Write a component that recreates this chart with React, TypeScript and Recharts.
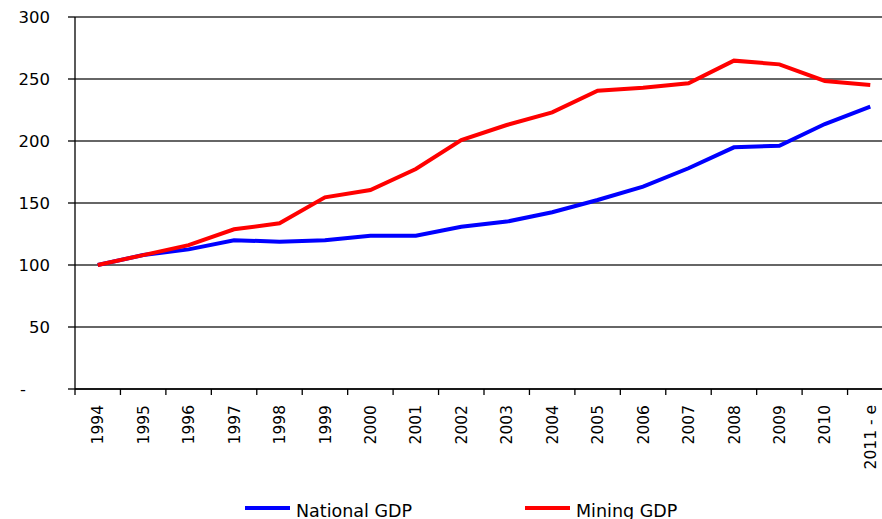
import React from 'react';
import { LineChart, Line, XAxis, YAxis, CartesianGrid, Legend } from 'recharts';

const years = ['1994', '1995', '1996', '1997', '1998', '1999', '2000', '2001', '2002', '2003', '2004', '2005', '2006', '2007', '2008', '2009', '2010', '2011 - e'];
const nationalGdp = [100, 108, 112.6, 120, 118.8, 120, 123.6, 123.6, 130.9, 135, 142.5, 152.4, 163.2, 178, 194.9, 196.2, 213.7, 227.7];
const miningGdp = [100, 108, 116, 128.8, 133.6, 154.6, 160.5, 177.4, 200.8, 212.9, 223.1, 240.6, 243, 246.5, 264.8, 261.8, 248.4, 245.2];
const yTicks = [0, 50, 100, 150, 200, 250, 300];
const seriesNames = ['National GDP', 'Mining GDP'];
const seriesColors = ['#0000FF', '#FF0000'];

const data = years.map((year, i) => ({ year, national: nationalGdp[i], mining: miningGdp[i] }));

const FONT = '"DejaVu Sans", Verdana, sans-serif';

const YTick = (props: any) => {
  const { x, y, payload } = props;
  const v = payload.value;
  if (v === 0) {
    return (
      <text x={x - 24} y={y} dy="0.38em" textAnchor="end" fontSize={16.5} fill="#000" fontFamily={FONT}>
        -
      </text>
    );
  }
  return (
    <text x={x} y={y} dy="0.38em" textAnchor="end" fontSize={16.5} fill="#000" fontFamily={FONT}>
      {v}
    </text>
  );
};

const XTick = (props: any) => {
  const { x, y, payload } = props;
  const off = payload && payload.offset != null ? payload.offset : 0;
  const bx = x - off;
  const ty = y + 16;
  return (
    <g>
      <line x1={bx} y1={y} x2={bx} y2={y + 6} stroke="#000" strokeWidth={1.3} />
      <text
        x={x}
        y={ty}
        dy="0.36em"
        textAnchor="end"
        transform={`rotate(-90, ${x}, ${ty})`}
        fontSize={15.5}
        fill="#000"
        fontFamily={FONT}
      >
        {payload.value}
      </text>
    </g>
  );
};

const LegendContent = () => (
  <div style={{ height: 24, display: 'flex', alignItems: 'center', paddingLeft: 245, fontFamily: FONT, fontSize: 17.5, color: '#000' }}>
    {seriesNames.map((name, i) => (
      <div key={name} style={{ width: 280, display: 'flex', alignItems: 'center' }}>
        <div style={{ width: 45, height: 4, background: seriesColors[i] }} />
        <span style={{ marginLeft: 6, whiteSpace: 'nowrap', position: 'relative', top: 3 }}>{name}</span>
      </div>
    ))}
  </div>
);

export default function App() {
  return (
    <div style={{ position: 'absolute', left: 0, top: 0, width: 882, height: 519, overflow: 'hidden', background: '#fff', fontFamily: FONT }}>
      <LineChart width={900} height={540} data={data} margin={{ top: 17, right: 7, left: 0, bottom: 20 }}>
        <CartesianGrid vertical={false} stroke="#333" strokeWidth={1.3} />
        <XAxis
          dataKey="year"
          scale="band"
          interval={0}
          tickSize={0}
          tickMargin={0}
          tickLine={false}
          height={107}
          axisLine={{ stroke: '#000', strokeWidth: 1.3 }}
          tick={<XTick />}
        />
        <YAxis
          domain={[0, 300]}
          ticks={yTicks}
          width={75}
          tickSize={7}
          tickMargin={18}
          axisLine={{ stroke: '#000', strokeWidth: 1.3 }}
          tickLine={{ stroke: '#000', strokeWidth: 1.3 }}
          tick={<YTick />}
          interval={0}
        />
        <Legend verticalAlign="bottom" content={<LegendContent />} />
        <Line dataKey="national" name={seriesNames[0]} stroke={seriesColors[0]} strokeWidth={4} dot={false} isAnimationActive={false} />
        <Line dataKey="mining" name={seriesNames[1]} stroke={seriesColors[1]} strokeWidth={4} dot={false} isAnimationActive={false} />
      </LineChart>
    </div>
  );
}
